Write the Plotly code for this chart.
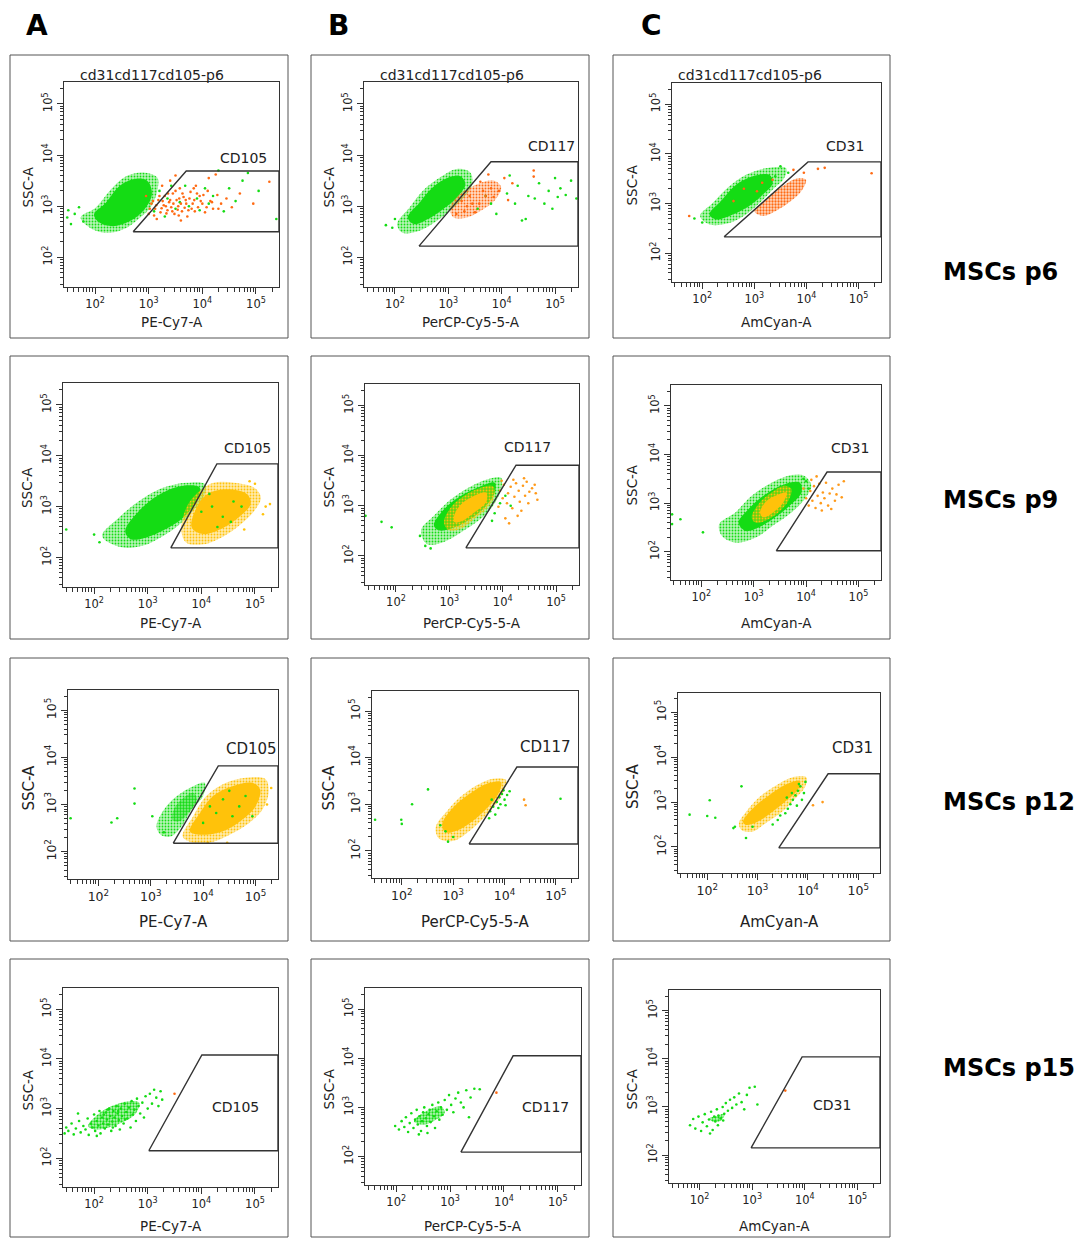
import numpy as np
import plotly.graph_objects as go

W, H = 1078, 1238
FONT = "DejaVu Sans"
INK = "#333333"

GREEN = "#14DC14"
ORANGE = "#FF6A13"
AMBER = "#FF9A1A"
GOLD = "#FFC20A"
TINTS = {GREEN: "rgba(20,220,20,0.30)", ORANGE: "rgba(255,106,19,0.25)",
         AMBER: "rgba(255,154,26,0.25)", GOLD: "rgba(255,194,10,0.35)"}

column_letters = ["A", "B", "C"]
channels = ["PE-Cy7-A", "PerCP-Cy5-5-A", "AmCyan-A"]
markers = ["CD105", "CD117", "CD31"]
passages = ["MSCs p6", "MSCs p9", "MSCs p12", "MSCs p15"]
sample_title = "cd31cd117cd105-p6"

# log10 axis window shared by every dot plot
LOG_MIN, LOG_MAX = 1.42, 5.43
major_ticks = [1e2, 1e3, 1e4, 1e5]
major_text = ["10<sup>2</sup>", "10<sup>3</sup>", "10<sup>4</sup>", "10<sup>5</sup>"]
minor_ticks = [m * 10.0 ** e for e in range(1, 6) for m in range(2, 10)]

# gates (log10 units), row-major: p6 A/B/C, p9 A/B/C, p12 A/B/C, p15 A/B/C
gate_low_x = [2.71, 2.45, 2.42, 3.43, 3.31, 3.43, 3.43, 3.31, 3.42, 3.02, 3.20, 2.98]
gate_low_y = [2.50, 2.22, 2.33, 2.19, 2.16, 2.02, 2.18, 2.15, 1.98, 2.15, 2.09, 2.15]
gate_top_x = [3.70, 3.80, 4.03, 4.29, 4.25, 4.40, 4.29, 4.24, 4.40, 4.01, 4.17, 3.95]
gate_top_y = [3.69, 3.87, 3.84, 3.84, 3.81, 3.64, 3.82, 3.80, 3.63, 4.08, 4.05, 4.04]
gate_label_x = [4.76, 4.94, 4.74, 4.87, 4.46, 4.84, 4.92, 4.79, 4.89, 4.63, 4.78, 4.52]
gate_label_y = [3.94, 4.18, 4.16, 4.15, 4.17, 4.13, 4.18, 4.23, 4.20, 3.03, 3.01, 3.04]

# ---- event clouds (log10 x, log10 y) ----
# p6 / CD105
p6_cd105_green_halo = [(1.73, 2.78), (2.01, 2.97), (2.27, 3.30), (2.59, 3.59), (2.90, 3.66), (3.16, 3.56),
                       (3.16, 3.30), (3.03, 2.97), (2.84, 2.78), (2.59, 2.58), (2.27, 2.48), (1.95, 2.55)]
p6_cd105_green_core = [(1.98, 2.84), (2.20, 3.07), (2.46, 3.40), (2.71, 3.53), (2.97, 3.50), (3.06, 3.24),
                       (2.90, 2.91), (2.65, 2.71), (2.33, 2.61), (2.08, 2.68)]
p6_cd105_green_dots = [(3.20, 3.30), (3.35, 3.15), (3.50, 2.95), (3.68, 3.40), (3.75, 3.00), (3.90, 3.15),
                       (4.05, 3.35), (4.20, 3.20), (4.40, 2.90), (4.50, 3.35), (4.62, 3.10), (4.75, 3.50),
                       (4.85, 3.65), (5.05, 3.30), (5.38, 2.75), (3.10, 2.90), (3.30, 2.80), (4.30, 3.70),
                       (1.48, 2.78), (1.50, 2.92), (1.55, 2.65), (1.62, 2.85), (1.70, 2.98), (1.78, 2.70),
                       (3.58, 3.08), (3.95, 2.92), (4.12, 3.05), (3.42, 3.40)]
p6_cd105_orange_dots = [(3.05, 3.05), (3.12, 2.95), (3.18, 3.12), (3.22, 2.88), (3.28, 3.02), (3.30, 3.20),
                        (3.35, 2.92), (3.38, 3.08), (3.42, 2.98), (3.45, 3.25), (3.48, 2.85), (3.52, 3.12),
                        (3.55, 3.00), (3.58, 3.35), (3.62, 2.90), (3.65, 3.18), (3.70, 3.05), (3.72, 2.80),
                        (3.78, 3.28), (3.80, 2.95), (3.85, 3.12), (3.88, 3.40), (3.92, 2.98), (3.95, 3.20),
                        (4.00, 3.05), (4.05, 2.88), (4.10, 3.30), (4.15, 3.10), (4.20, 2.95), (4.28, 3.22),
                        (4.35, 3.05), (4.45, 3.15), (4.55, 2.98), (4.70, 3.25), (4.95, 3.05), (5.25, 3.48),
                        (3.25, 3.40), (3.40, 3.50), (3.00, 2.85), (3.15, 2.75), (3.60, 2.72), (4.12, 3.55),
                        (2.95, 3.20), (3.50, 3.60), (4.25, 3.62),
                        (3.02, 2.95), (3.08, 3.10), (3.10, 2.82), (3.14, 3.02), (3.20, 3.20), (3.24, 2.96),
                        (3.26, 3.10), (3.32, 3.00), (3.33, 2.86), (3.36, 3.25), (3.40, 3.12), (3.44, 2.90),
                        (3.46, 3.05), (3.50, 3.30), (3.54, 2.93), (3.57, 3.15), (3.60, 3.05), (3.63, 3.25),
                        (3.67, 2.97), (3.69, 3.12), (3.74, 2.92), (3.76, 3.15), (3.82, 3.05), (3.86, 2.90),
                        (3.90, 3.25), (3.97, 3.10), (4.02, 3.22), (4.08, 2.98), (4.18, 3.08), (4.30, 2.95),
                        (3.56, 2.82), (3.84, 3.35)]

# p6 / CD117
p6_cd117_green_halo = [(2.04, 2.65), (2.27, 2.97), (2.52, 3.30), (2.84, 3.56), (3.16, 3.73), (3.41, 3.66),
                       (3.45, 3.43), (3.29, 3.17), (3.03, 2.91), (2.78, 2.71), (2.46, 2.52), (2.14, 2.48)]
p6_cd117_green_core = [(2.24, 2.78), (2.46, 3.07), (2.71, 3.37), (3.00, 3.56), (3.22, 3.59), (3.32, 3.43),
                       (3.16, 3.17), (2.90, 2.94), (2.62, 2.75), (2.36, 2.65)]
p6_cd117_orange_halo = [(3.03, 2.97), (3.22, 3.24), (3.54, 3.43), (3.86, 3.50), (3.99, 3.37), (3.86, 3.10),
                        (3.61, 2.91), (3.35, 2.78), (3.10, 2.78)]
p6_cd117_orange_dots = [(3.95, 3.30), (4.05, 3.55), (4.12, 3.12), (4.60, 3.70), (4.60, 3.58), (3.75, 3.62),
                        (3.60, 3.48), (4.20, 3.45), (3.45, 3.05), (3.50, 2.88), (3.70, 3.20), (3.25, 3.10),
                        (3.30, 2.90), (3.15, 2.85), (3.40, 3.20), (3.58, 3.05), (3.80, 3.35), (3.65, 3.30),
                        (3.35, 3.00), (3.85, 3.18)]
p6_cd117_green_dots = [(4.10, 3.25), (4.25, 3.05), (4.30, 3.40), (4.45, 2.75), (4.50, 3.20), (4.62, 3.15),
                       (4.70, 3.45), (4.80, 3.05), (4.88, 3.30), (4.95, 2.95), (5.05, 3.18), (5.10, 3.35),
                       (5.20, 3.22), (5.30, 3.50), (5.40, 3.15), (4.15, 3.60), (3.90, 2.85), (4.38, 2.72),
                       (5.00, 3.55), (3.70, 3.20), (3.55, 2.95), (3.80, 3.05), (1.83, 2.63), (1.95, 2.58),
                       (2.00, 2.75)]

# p6 / CD31
p6_cd31_green_halo = [(1.96, 2.75), (2.20, 3.01), (2.52, 3.35), (2.84, 3.58), (3.22, 3.71), (3.61, 3.71),
                      (3.57, 3.51), (3.35, 3.28), (3.10, 3.01), (2.84, 2.78), (2.52, 2.61), (2.14, 2.58)]
p6_cd31_green_core = [(2.14, 2.78), (2.36, 3.05), (2.65, 3.38), (2.97, 3.55), (3.29, 3.58), (3.35, 3.41),
                      (3.13, 3.15), (2.84, 2.91), (2.52, 2.75), (2.27, 2.68)]
p6_cd31_orange_halo = [(3.00, 2.85), (3.22, 3.08), (3.54, 3.35), (3.83, 3.51), (3.99, 3.48), (3.92, 3.28),
                       (3.70, 3.05), (3.41, 2.85), (3.16, 2.75)]
p6_cd31_orange_dots = [(4.22, 3.70), (4.35, 3.72), (5.25, 3.61), (3.95, 3.62), (3.75, 3.68), (3.05, 3.25),
                       (3.15, 3.42), (1.75, 2.75), (3.35, 3.48), (2.80, 3.30), (2.60, 3.05)]
p6_cd31_green_dots = [(1.85, 2.70), (2.00, 2.62), (3.65, 3.62), (3.50, 3.75), (3.40, 3.55)]

# p9 / CD105
p9_cd105_green_halo = [(2.15, 2.42), (2.46, 2.78), (2.84, 3.11), (3.28, 3.37), (3.72, 3.47), (4.07, 3.44),
                       (4.04, 3.18), (3.85, 2.92), (3.59, 2.65), (3.28, 2.42), (2.90, 2.23), (2.52, 2.20)]
p9_cd105_green_core = [(2.58, 2.52), (2.84, 2.92), (3.22, 3.24), (3.66, 3.41), (3.97, 3.37), (3.91, 3.11),
                       (3.66, 2.78), (3.34, 2.56), (2.96, 2.39), (2.68, 2.36)]
p9_cd105_gold_halo = [(3.72, 2.98), (3.97, 3.31), (4.23, 3.47), (4.61, 3.47), (4.99, 3.37), (5.11, 3.18),
                      (4.99, 2.92), (4.73, 2.65), (4.42, 2.42), (4.04, 2.26), (3.72, 2.29), (3.63, 2.52)]
p9_cd105_gold_core = [(3.91, 2.98), (4.10, 3.24), (4.48, 3.34), (4.86, 3.24), (4.92, 3.05), (4.73, 2.82),
                      (4.42, 2.59), (4.04, 2.46), (3.82, 2.59)]
p9_cd105_green_dots = [(1.48, 2.55), (2.00, 2.45), (2.10, 2.30), (4.20, 3.00), (4.40, 2.80), (4.60, 3.10),
                       (4.30, 2.60), (4.00, 2.90), (4.75, 3.00), (4.15, 3.25), (4.55, 2.70)]
p9_cd105_gold_dots = [(5.20, 3.00), (5.00, 3.45), (4.80, 2.55), (5.28, 3.05), (4.90, 3.50), (5.15, 2.85)]

# p9 / CD117
p9_cd117_green_halo = [(2.47, 2.51), (2.71, 2.80), (3.03, 3.13), (3.41, 3.39), (3.72, 3.53), (3.97, 3.56),
                       (3.97, 3.33), (3.82, 3.00), (3.59, 2.74), (3.28, 2.51), (2.90, 2.28), (2.58, 2.24)]
p9_cd117_green_core = [(2.71, 2.61), (2.90, 2.93), (3.22, 3.20), (3.59, 3.39), (3.85, 3.46), (3.85, 3.26),
                       (3.63, 2.93), (3.34, 2.70), (3.03, 2.54), (2.80, 2.51)]
p9_cd117_gold_halo = [(2.90, 2.67), (3.03, 2.97), (3.28, 3.20), (3.59, 3.36), (3.82, 3.39), (3.85, 3.20),
                      (3.69, 2.93), (3.47, 2.74), (3.22, 2.54), (2.99, 2.51)]
p9_cd117_gold_core = [(3.09, 2.80), (3.22, 3.03), (3.47, 3.20), (3.69, 3.26), (3.69, 3.07), (3.47, 2.87),
                      (3.25, 2.70), (3.10, 2.67)]
p9_cd117_amber_dots = [(3.95, 3.30), (4.00, 3.15), (4.02, 3.42), (4.08, 3.05), (4.10, 3.25), (4.15, 3.38),
                       (4.18, 2.95), (4.22, 3.18), (4.25, 3.45), (4.30, 3.30), (4.32, 3.08), (4.38, 3.40),
                       (4.42, 3.20), (4.45, 3.48), (4.50, 3.28), (4.55, 3.35), (4.60, 3.42), (4.65, 3.12),
                       (4.35, 2.90), (4.05, 2.75), (4.12, 2.65), (4.48, 3.05), (3.92, 2.98), (4.20, 3.52),
                       (4.28, 2.80), (4.62, 3.25), (4.40, 3.55), (3.98, 3.50)]
p9_cd117_green_dots = [(1.43, 2.80), (1.73, 2.68), (1.92, 2.57), (5.46, 3.20), (3.85, 2.85), (3.95, 3.05),
                       (4.05, 3.20), (3.80, 2.70), (4.15, 3.00), (2.45, 2.40), (2.55, 2.20), (2.65, 2.15)]

# p9 / CD31
p9_cd31_green_halo = [(2.34, 2.57), (2.65, 2.81), (2.96, 3.15), (3.34, 3.42), (3.72, 3.58), (3.97, 3.56),
                      (4.10, 3.36), (3.97, 3.08), (3.72, 2.81), (3.41, 2.57), (3.03, 2.29), (2.65, 2.19),
                      (2.39, 2.33)]
p9_cd31_green_core = [(2.71, 2.60), (2.90, 2.88), (3.22, 3.18), (3.59, 3.39), (3.88, 3.42), (3.91, 3.22),
                      (3.69, 2.95), (3.41, 2.71), (3.09, 2.50), (2.84, 2.43)]
p9_cd31_gold_halo = [(2.96, 2.71), (3.09, 2.98), (3.34, 3.22), (3.59, 3.36), (3.72, 3.29), (3.66, 3.05),
                     (3.47, 2.81), (3.22, 2.64), (3.03, 2.60)]
p9_cd31_gold_core = [(3.12, 2.81), (3.25, 3.05), (3.47, 3.18), (3.63, 3.22), (3.56, 3.01), (3.37, 2.81),
                     (3.18, 2.71)]
p9_cd31_amber_dots = [(4.00, 3.10), (4.05, 2.95), (4.08, 3.25), (4.12, 3.05), (4.15, 3.35), (4.18, 2.90),
                      (4.22, 3.15), (4.25, 3.40), (4.28, 3.00), (4.32, 3.22), (4.35, 3.10), (4.38, 3.42),
                      (4.42, 2.95), (4.45, 3.20), (4.50, 3.30), (4.55, 3.05), (4.58, 3.18), (4.62, 3.38),
                      (4.68, 3.12), (4.72, 3.45), (4.30, 2.85), (4.10, 3.48), (3.95, 3.30), (4.48, 2.88),
                      (4.20, 3.55)]
p9_cd31_green_dots = [(1.44, 2.77), (1.60, 2.67), (2.03, 2.40), (1.44, 2.57), (4.05, 3.30), (4.00, 3.45),
                      (3.95, 3.50)]

# p12 / CD105
p12_cd105_green_halo = [(3.11, 2.54), (3.25, 2.89), (3.50, 3.18), (3.81, 3.39), (4.03, 3.46), (4.00, 3.18),
                        (3.78, 2.89), (3.59, 2.54), (3.38, 2.32), (3.19, 2.36)]
p12_cd105_green_core = [(3.44, 2.89), (3.59, 3.11), (3.81, 3.25), (3.88, 3.11), (3.72, 2.82), (3.53, 2.64),
                        (3.41, 2.68)]
p12_cd105_gold_halo = [(3.61, 2.32), (3.81, 2.75), (4.06, 3.18), (4.44, 3.46), (4.81, 3.57), (5.19, 3.54),
                       (5.25, 3.25), (5.13, 2.89), (4.88, 2.61), (4.56, 2.39), (4.19, 2.21), (3.81, 2.19)]
p12_cd105_gold_core = [(3.75, 2.43), (3.94, 2.82), (4.19, 3.18), (4.56, 3.39), (4.94, 3.46), (5.09, 3.32),
                       (5.00, 2.96), (4.75, 2.68), (4.44, 2.46), (4.06, 2.36)]
p12_cd105_green_dots = [(2.69, 3.34), (2.69, 3.02), (2.36, 2.71), (2.25, 2.62), (1.47, 2.71), (3.03, 2.75),
                        (3.25, 2.41), (4.50, 3.29), (4.69, 2.96), (4.25, 2.82), (4.81, 3.18), (4.00, 2.61),
                        (4.38, 3.11), (4.13, 2.96), (4.94, 2.75), (4.56, 2.75)]
p12_cd105_gold_dots = [(4.09, 2.19), (4.46, 2.19), (5.30, 3.35), (5.22, 3.00)]

# p12 / CD117
p12_cd117_gold_halo = [(2.66, 2.51), (2.89, 2.87), (3.14, 3.16), (3.46, 3.41), (3.77, 3.55), (4.03, 3.52),
                       (3.99, 3.30), (3.84, 3.01), (3.61, 2.73), (3.33, 2.44), (3.01, 2.22), (2.73, 2.26)]
p12_cd117_gold_core = [(2.79, 2.58), (3.01, 2.94), (3.33, 3.23), (3.68, 3.45), (3.93, 3.48), (3.90, 3.27),
                       (3.68, 2.94), (3.39, 2.65), (3.08, 2.44), (2.85, 2.40)]
p12_cd117_green_dots = [(3.72, 2.85), (3.78, 2.95), (3.85, 3.05), (3.90, 3.15), (3.95, 3.22), (4.00, 3.10),
                        (3.82, 2.78), (3.88, 2.92), (3.98, 3.30), (4.05, 3.20), (3.70, 2.70), (4.10, 3.28),
                        (3.92, 3.00), (3.75, 3.10), (4.02, 2.98), (2.75, 2.55), (2.85, 2.42), (3.00, 2.30),
                        (2.90, 2.20), (2.51, 3.32), (2.20, 3.00), (1.99, 2.67), (2.00, 2.58), (1.48, 2.67),
                        (5.09, 3.12)]
p12_cd117_orange_dots = [(4.38, 3.10), (4.41, 2.98)]

# p12 / CD31
p12_cd31_gold_halo = [(2.63, 2.53), (2.77, 2.78), (3.03, 3.11), (3.35, 3.36), (3.68, 3.55), (3.97, 3.55),
                      (3.94, 3.33), (3.74, 3.07), (3.48, 2.78), (3.16, 2.53), (2.90, 2.34), (2.68, 2.38)]
p12_cd31_gold_core = [(2.71, 2.56), (2.90, 2.85), (3.23, 3.15), (3.58, 3.40), (3.84, 3.47), (3.81, 3.29),
                      (3.58, 3.04), (3.29, 2.78), (3.00, 2.56), (2.77, 2.49)]
p12_cd31_green_dots = [(3.45, 2.70), (3.55, 2.75), (3.60, 2.85), (3.65, 2.95), (3.70, 3.05), (3.75, 3.15),
                       (3.80, 3.25), (3.85, 3.35), (3.88, 3.05), (3.78, 2.92), (3.68, 3.20), (3.92, 3.20),
                       (3.40, 2.60), (3.30, 2.50), (3.58, 3.10), (3.82, 3.40), (3.95, 3.45), (2.90, 2.45),
                       (2.55, 2.45), (2.68, 3.35), (2.05, 3.04), (1.65, 2.72), (2.00, 2.69), (2.16, 2.65),
                       (2.77, 2.20), (2.52, 2.42)]
p12_cd31_orange_dots = [(4.10, 2.93), (4.29, 3.00)]

# p15 / CD105
p15_cd105_green_core = [(1.89, 2.65), (2.08, 2.89), (2.33, 3.05), (2.65, 3.15), (2.84, 3.12), (2.77, 2.89),
                        (2.52, 2.72), (2.27, 2.62), (2.01, 2.58)]
p15_cd105_green_dots = [(1.45, 2.50), (1.48, 2.62), (1.52, 2.55), (1.58, 2.70), (1.62, 2.48), (1.66, 2.60),
                        (1.72, 2.75), (1.75, 2.52), (1.80, 2.65), (1.84, 2.58), (1.88, 2.80), (1.90, 2.47),
                        (1.94, 2.70), (1.97, 2.62), (2.00, 2.88), (2.02, 2.55), (2.05, 2.75), (2.08, 2.66),
                        (2.10, 2.95), (2.12, 2.50), (2.15, 2.82), (2.17, 2.70), (2.20, 2.60), (2.22, 2.92),
                        (2.24, 2.78), (2.26, 2.68), (2.28, 3.00), (2.30, 2.85), (2.32, 2.55), (2.34, 2.74),
                        (2.36, 2.95), (2.38, 2.82), (2.40, 2.65), (2.42, 3.05), (2.44, 2.90), (2.46, 2.77),
                        (2.48, 2.58), (2.50, 3.00), (2.52, 2.85), (2.55, 2.70), (2.57, 3.10), (2.60, 2.93),
                        (2.62, 2.80), (2.65, 3.02), (2.68, 2.62), (2.70, 3.15), (2.72, 2.88), (2.75, 2.98),
                        (2.78, 2.75), (2.80, 3.20), (2.83, 3.05), (2.86, 2.90), (2.90, 3.12), (2.93, 2.82),
                        (2.96, 3.25), (3.00, 3.00), (3.04, 3.30), (3.08, 3.10), (3.12, 3.38), (3.16, 3.22),
                        (3.20, 3.05), (3.24, 3.35), (3.27, 3.18), (2.18, 2.88), (2.26, 2.98), (2.35, 2.62),
                        (2.45, 2.95), (2.58, 2.78), (1.70, 2.90), (2.05, 2.45)]
p15_cd105_orange_dots = [(3.50, 3.30)]

# p15 / CD117
p15_cd117_green_core = [(2.33, 2.72), (2.55, 2.92), (2.83, 3.02), (2.90, 2.89), (2.69, 2.72), (2.48, 2.65)]
p15_cd117_green_dots = [(1.98, 2.62), (2.05, 2.55), (2.10, 2.72), (2.15, 2.60), (2.18, 2.80), (2.22, 2.50),
                        (2.25, 2.68), (2.28, 2.88), (2.32, 2.58), (2.35, 2.75), (2.38, 2.95), (2.40, 2.65),
                        (2.43, 2.82), (2.46, 2.52), (2.48, 2.72), (2.50, 2.90), (2.52, 3.00), (2.55, 2.78),
                        (2.57, 2.62), (2.60, 2.86), (2.62, 2.95), (2.64, 2.70), (2.67, 3.05), (2.70, 2.82),
                        (2.72, 2.58), (2.75, 2.92), (2.78, 3.10), (2.80, 2.75), (2.83, 3.00), (2.86, 2.85),
                        (2.90, 3.15), (2.94, 2.95), (2.98, 3.25), (3.02, 3.05), (3.06, 2.90), (3.10, 3.18),
                        (3.15, 3.30), (3.20, 3.10), (3.25, 3.00), (3.30, 3.35), (3.38, 3.20), (3.45, 3.38),
                        (3.55, 3.37), (3.35, 2.80), (2.58, 2.48), (2.42, 2.45)]
p15_cd117_orange_dots = [(3.86, 3.30)]

# p15 / CD31
p15_cd31_green_core = [(2.19, 2.76), (2.37, 2.83), (2.48, 2.86), (2.41, 2.72), (2.26, 2.69)]
p15_cd31_green_dots = [(1.82, 2.62), (1.88, 2.75), (1.92, 2.55), (1.98, 2.80), (2.03, 2.50), (2.06, 2.68),
                       (2.10, 2.85), (2.14, 2.60), (2.18, 2.74), (2.22, 2.90), (2.25, 2.52), (2.28, 2.80),
                       (2.30, 2.70), (2.33, 2.95), (2.36, 2.82), (2.40, 2.76), (2.44, 3.00), (2.47, 2.86),
                       (2.50, 3.08), (2.54, 2.92), (2.58, 3.15), (2.62, 2.98), (2.66, 3.20), (2.70, 3.05),
                       (2.75, 3.28), (2.80, 3.10), (2.85, 2.95), (2.90, 3.25), (2.95, 3.40), (3.05, 3.42),
                       (3.10, 3.05), (2.35, 2.62), (2.45, 2.72), (2.20, 2.45)]
p15_cd31_orange_dots = [(3.63, 3.34)]

# drawing order of the layers in each plot
panel_layers = [
    [("halo", GREEN, p6_cd105_green_halo), ("solid", GREEN, p6_cd105_green_core),
     ("dots", GREEN, p6_cd105_green_dots), ("dots", ORANGE, p6_cd105_orange_dots)],
    [("halo", GREEN, p6_cd117_green_halo), ("solid", GREEN, p6_cd117_green_core),
     ("halo", ORANGE, p6_cd117_orange_halo), ("dots", GREEN, p6_cd117_green_dots),
     ("dots", ORANGE, p6_cd117_orange_dots)],
    [("halo", GREEN, p6_cd31_green_halo), ("solid", GREEN, p6_cd31_green_core),
     ("medium", ORANGE, p6_cd31_orange_halo), ("dots", GREEN, p6_cd31_green_dots),
     ("dots", ORANGE, p6_cd31_orange_dots)],
    [("halo", GREEN, p9_cd105_green_halo), ("solid", GREEN, p9_cd105_green_core),
     ("halo", GOLD, p9_cd105_gold_halo), ("solid", GOLD, p9_cd105_gold_core),
     ("dots", GREEN, p9_cd105_green_dots), ("dots", GOLD, p9_cd105_gold_dots)],
    [("halo", GREEN, p9_cd117_green_halo), ("solid", GREEN, p9_cd117_green_core),
     ("halo", GOLD, p9_cd117_gold_halo), ("solid", GOLD, p9_cd117_gold_core),
     ("dots", AMBER, p9_cd117_amber_dots), ("dots", GREEN, p9_cd117_green_dots)],
    [("halo", GREEN, p9_cd31_green_halo), ("solid", GREEN, p9_cd31_green_core),
     ("halo", GOLD, p9_cd31_gold_halo), ("solid", GOLD, p9_cd31_gold_core),
     ("dots", AMBER, p9_cd31_amber_dots), ("dots", GREEN, p9_cd31_green_dots)],
    [("halo", GREEN, p12_cd105_green_halo), ("medium", GREEN, p12_cd105_green_core),
     ("halo", GOLD, p12_cd105_gold_halo), ("solid", GOLD, p12_cd105_gold_core),
     ("dots", GREEN, p12_cd105_green_dots), ("dots", GOLD, p12_cd105_gold_dots)],
    [("halo", GOLD, p12_cd117_gold_halo), ("solid", GOLD, p12_cd117_gold_core),
     ("dots", GREEN, p12_cd117_green_dots), ("dots", AMBER, p12_cd117_orange_dots)],
    [("halo", GOLD, p12_cd31_gold_halo), ("solid", GOLD, p12_cd31_gold_core),
     ("dots", GREEN, p12_cd31_green_dots), ("dots", AMBER, p12_cd31_orange_dots)],
    [("medium", GREEN, p15_cd105_green_core), ("dots", GREEN, p15_cd105_green_dots),
     ("dots", ORANGE, p15_cd105_orange_dots)],
    [("medium", GREEN, p15_cd117_green_core), ("dots", GREEN, p15_cd117_green_dots),
     ("dots", ORANGE, p15_cd117_orange_dots)],
    [("medium", GREEN, p15_cd31_green_core), ("dots", GREEN, p15_cd31_green_dots),
     ("dots", ORANGE, p15_cd31_orange_dots)],
]

# ---- page geometry (pixels) ----
# inner plot boxes: (left, right, top, bottom)
plot_boxes = [
    (64, 279, 82, 287), (364, 578, 82, 287), (672, 881, 83, 282),
    (63, 278, 383, 587), (365, 579, 384, 585), (671, 881, 385, 580),
    (68, 278, 690, 879), (372, 578, 691, 878), (678, 880, 693, 873),
    (63, 278, 988, 1187), (365, 581, 988, 1185), (669, 880, 990, 1183),
]
frame_cols = [(10, 288), (311, 589), (613, 890)]
frame_rows = [(55, 338), (356, 639), (658, 941), (959, 1237)]
xtitle_y = [322, 623, 922, 1226]
ytitle_x = [[27, 328, 631], [27, 328, 631], [28, 328, 633], [27, 328, 631]]
row_label_y = [272, 500, 802, 1068]
letter_x = [37, 338, 651]
title_left = [78, 378, 676]

PATTERNS = {
    "halo": dict(size=3, solidity=0.3),
    "medium": dict(size=3, solidity=0.45),
}


def px_x(p):
    return p / W


def px_y(p):
    return 1 - p / H


fig = go.Figure()
layout = dict(
    width=W, height=H, margin=dict(l=0, r=0, t=0, b=0),
    paper_bgcolor="white", plot_bgcolor="white", showlegend=False,
    font=dict(family=FONT, color=INK),
)
annotations = []
shapes = []

for i in range(12):
    row, col = divmod(i, 3)
    big = row == 2
    tick_size = 12.5 if big else 11.5
    title_size = 15 if big else 13.5
    label_size = 15 if big else 14
    n = "" if i == 0 else str(i + 1)
    xa, ya = "x" + n, "y" + n
    left, right, top, bottom = plot_boxes[i]

    common = dict(
        type="log", range=[LOG_MIN, LOG_MAX], showgrid=False, zeroline=False,
        showline=True, mirror=True, linecolor=INK, linewidth=1,
        ticks="outside", ticklen=6, tickwidth=1, tickcolor=INK,
        tickmode="array", tickvals=major_ticks, ticktext=major_text,
        tickfont=dict(family=FONT, size=tick_size, color="#222222"),
        minor=dict(tickmode="array", tickvals=minor_ticks, ticks="outside",
                   ticklen=3.5, tickwidth=1, tickcolor=INK, showgrid=False),
        fixedrange=True,
    )
    layout["xaxis" + n] = dict(common, domain=[px_x(left), px_x(right)], anchor=ya)
    layout["yaxis" + n] = dict(common, domain=[px_y(bottom), px_y(top)], anchor=xa, tickangle=-90)

    # event clouds
    for kind, color, pts in panel_layers[i]:
        lx = np.array([p[0] for p in pts])
        ly = np.array([p[1] for p in pts])
        if kind == "dots":
            fig.add_trace(go.Scatter(
                x=10.0 ** lx, y=10.0 ** ly, mode="markers", xaxis=xa, yaxis=ya,
                marker=dict(size=2.6, color=color, line=dict(width=0)),
                hoverinfo="skip"))
            continue
        lx = np.append(lx, lx[0])
        ly = np.append(ly, ly[0])
        trace = go.Scatter(
            x=10.0 ** lx, y=10.0 ** ly, mode="lines", xaxis=xa, yaxis=ya,
            line=dict(width=0, shape="spline", smoothing=1.0, color=color),
            fill="toself", hoverinfo="skip")
        if kind == "solid":
            trace.fillcolor = color
        else:
            pat = PATTERNS[kind]
            trace.fillcolor = TINTS[color]
            trace.fillpattern = dict(shape=".", size=pat["size"], solidity=pat["solidity"],
                                     fgcolor=color, bgcolor=TINTS[color], fillmode="replace")
        fig.add_trace(trace)

    # gate outline
    gx = [gate_low_x[i], gate_top_x[i], LOG_MAX, LOG_MAX, gate_low_x[i]]
    gy = [gate_low_y[i], gate_top_y[i], gate_top_y[i], gate_low_y[i], gate_low_y[i]]
    fig.add_trace(go.Scatter(
        x=10.0 ** np.array(gx), y=10.0 ** np.array(gy), mode="lines", xaxis=xa, yaxis=ya,
        line=dict(color=INK, width=1.4), cliponaxis=False, hoverinfo="skip"))
    annotations.append(dict(
        xref=xa, yref=ya, x=gate_label_x[i], y=gate_label_y[i], text=markers[col],
        showarrow=False, font=dict(family=FONT, size=label_size, color="#222222")))

    # axis titles
    annotations.append(dict(
        xref="paper", yref="paper", x=px_x((left + right) / 2), y=px_y(xtitle_y[row]),
        text=channels[col], showarrow=False, xanchor="center", yanchor="middle",
        font=dict(family=FONT, size=title_size, color="#222222")))
    annotations.append(dict(
        xref="paper", yref="paper", x=px_x(ytitle_x[row][col]), y=px_y((top + bottom) / 2 + 3),
        text="SSC-A", textangle=-90, showarrow=False, xanchor="center", yanchor="middle",
        font=dict(family=FONT, size=title_size, color="#222222")))

    if row == 0:
        annotations.append(dict(
            xref="paper", yref="paper", x=px_x(title_left[col]), y=px_y(75),
            text=sample_title, showarrow=False, xanchor="left", yanchor="middle",
            font=dict(family=FONT, size=14, color="#222222")))

# outer frames around each dot plot
for (r0, r1) in frame_rows:
    for (c0, c1) in frame_cols:
        shapes.append(dict(type="rect", xref="paper", yref="paper",
                           x0=px_x(c0), x1=px_x(c1), y0=px_y(r1), y1=px_y(r0),
                           line=dict(color="#555555", width=1)))

for col in range(3):
    annotations.append(dict(
        xref="paper", yref="paper", x=px_x(letter_x[col]), y=px_y(25),
        text="<b>%s</b>" % column_letters[col], showarrow=False,
        xanchor="center", yanchor="middle",
        font=dict(family=FONT, size=28, color="black")))

for row in range(4):
    annotations.append(dict(
        xref="paper", yref="paper", x=px_x(941), y=px_y(row_label_y[row]),
        text="<b>%s</b>" % passages[row], showarrow=False,
        xanchor="left", yanchor="middle",
        font=dict(family=FONT, size=24, color="black")))

layout["annotations"] = annotations
layout["shapes"] = shapes
fig.update_layout(**layout)
fig.write_html("out.html")
